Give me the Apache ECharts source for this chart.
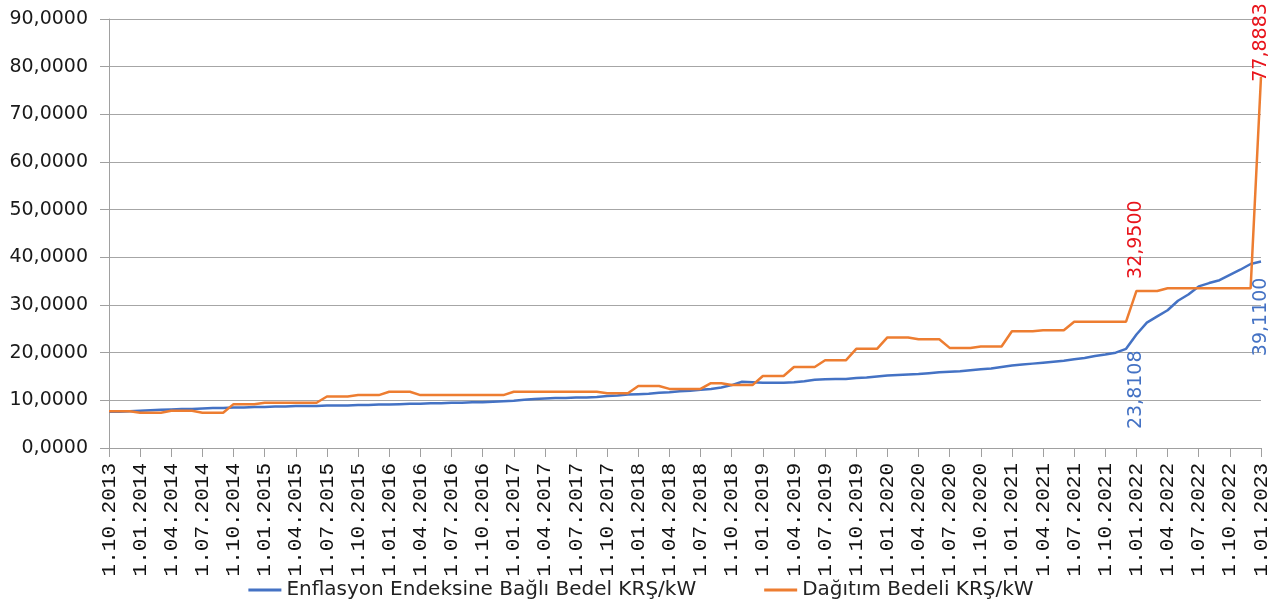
<!DOCTYPE html>
<html><head><meta charset="utf-8">
<script src="https://cdn.jsdelivr.net/npm/echarts@6/dist/echarts.min.js"></script>
<style>html,body{margin:0;padding:0;background:#fff}#c{width:1282px;height:605px}</style>
</head><body><div id="c"></div>
<script>
// Monthly categories, 1.10.2013 .. 1.01.2023
const categories = [];
for (let i = 0; i < 112; i++) {
  const m = (9 + i) % 12 + 1;
  const y = 2013 + Math.floor((9 + i) / 12);
  categories.push('1.' + String(m).padStart(2, '0') + '.' + y);
}
const seriesNames = ['Enflasyon Endeksine Bağlı Bedel KRŞ/kW', 'Dağıtım Bedeli KRŞ/kW'];

const enflasyon = [
  7.6, 7.6, 7.7, 7.8, 7.9, 8.0, 8.1, 8.2, 8.2, 8.3, 8.4, 8.4,
  8.5, 8.5, 8.6, 8.6, 8.7, 8.7, 8.8, 8.8, 8.8, 8.9, 8.9, 8.9,
  9.0, 9.0, 9.1, 9.1, 9.2, 9.3, 9.3, 9.4, 9.4, 9.5, 9.5, 9.6,
  9.6, 9.7, 9.8, 9.9, 10.1, 10.3, 10.4, 10.5, 10.5, 10.6, 10.6, 10.7,
  10.9, 11.0, 11.2, 11.3, 11.4, 11.6, 11.7, 11.9, 12.0, 12.2, 12.4, 12.7,
  13.2, 13.9, 13.8, 13.7, 13.7, 13.7, 13.8, 14.0, 14.3, 14.4, 14.5, 14.5,
  14.7, 14.8, 15.0, 15.2, 15.3, 15.4, 15.5, 15.7, 15.9, 16.0, 16.1, 16.3,
  16.5, 16.7, 17.0, 17.3, 17.5, 17.7, 17.9, 18.1, 18.3, 18.6, 18.9, 19.3,
  19.6, 20.0, 20.8, 23.8108, 26.3, 27.6, 28.9, 30.9, 32.2, 33.9, 34.6, 35.2,
  36.3, 37.4, 38.6, 39.11
];
const dagitim = [
  7.7, 7.7, 7.7, 7.4, 7.4, 7.4, 7.8, 7.8, 7.8, 7.4, 7.4, 7.4,
  9.2, 9.2, 9.2, 9.5, 9.5, 9.5, 9.5, 9.5, 9.5, 10.8, 10.8, 10.8,
  11.1, 11.1, 11.1, 11.8, 11.8, 11.8, 11.1, 11.1, 11.1, 11.1, 11.1, 11.1,
  11.1, 11.1, 11.1, 11.8, 11.8, 11.8, 11.8, 11.8, 11.8, 11.8, 11.8, 11.8,
  11.5, 11.5, 11.5, 13.0, 13.0, 13.0, 12.4, 12.4, 12.4, 12.4, 13.6, 13.6,
  13.2, 13.2, 13.2, 15.1, 15.1, 15.1, 17.0, 17.0, 17.0, 18.4, 18.4, 18.4,
  20.8, 20.8, 20.8, 23.2, 23.2, 23.2, 22.8, 22.8, 22.8, 21.0, 21.0, 21.0,
  21.3, 21.3, 21.3, 24.5, 24.5, 24.5, 24.7, 24.7, 24.7, 26.5, 26.5, 26.5,
  26.5, 26.5, 26.5, 32.95, 32.95, 32.95, 33.5, 33.5, 33.5, 33.5, 33.5, 33.5,
  33.5, 33.5, 33.5, 77.8883
];

const fmt = v => v.toFixed(4).replace('.', ',');
const BLUE = '#4472C4', ORANGE = '#ED7D31', RED = '#E8141B';

function labelled(arr, labels) {
  return arr.map((v, i) => labels[i] ? { value: v, label: labels[i] } : v);
}
const baseLbl = { show: true, rotate: 90, fontFamily: 'DejaVu Sans', fontSize: 19, verticalAlign: 'middle',
  formatter: p => fmt(p.value) };

const blueData = labelled(enflasyon, {
  99: Object.assign({}, baseLbl, { position: 'bottom', distance: 16, align: 'right', color: BLUE }),
  111: Object.assign({}, baseLbl, { position: 'bottom', distance: 16, align: 'right', color: BLUE })
});
const orangeData = labelled(dagitim, {
  99: Object.assign({}, baseLbl, { position: 'top', distance: 12, align: 'left', color: RED }),
  111: Object.assign({}, baseLbl, { position: 'bottom', distance: 5, align: 'left', color: RED })
});

const chart = echarts.init(document.getElementById('c'));
chart.setOption({
  animation: false,
  backgroundColor: '#fff',
  grid: { left: 109, right: 21, top: 19, bottom: 157, containLabel: false },
  legend: {
    data: seriesNames, top: 575, left: 'center', itemGap: 68, itemWidth: 33, itemHeight: 3,
    icon: 'rect',
    textStyle: { fontFamily: 'DejaVu Sans', fontSize: 20, color: '#222' }
  },
  xAxis: {
    type: 'category', data: categories, boundaryGap: false,
    axisLine: { lineStyle: { color: '#a0a0a0', width: 1 } },
    axisTick: { interval: 2, length: 9, lineStyle: { color: '#a0a0a0' } },
    axisLabel: { interval: 2, rotate: 90, margin: 15, fontFamily: 'Liberation Mono', fontSize: 21, color: '#111' },
    splitLine: { show: false }
  },
  yAxis: {
    type: 'value', min: 0, max: 90, interval: 10,
    axisLine: { show: true, lineStyle: { color: '#a0a0a0', width: 1 } },
    axisTick: { show: true, length: 9, lineStyle: { color: '#a0a0a0' } },
    axisLabel: { formatter: v => fmt(v), margin: 21, fontFamily: 'DejaVu Sans', fontSize: 19, color: '#1a1a1a' },
    splitLine: { lineStyle: { color: '#a6a6a6', width: 1 } }
  },
  series: [
    { name: seriesNames[0], type: 'line', data: blueData, showSymbol: true, showAllSymbol: true,
      symbol: 'circle', symbolSize: 0.01, labelLayout: { hideOverlap: false },
      lineStyle: { color: BLUE, width: 2.5 }, itemStyle: { color: BLUE } },
    { name: seriesNames[1], type: 'line', data: orangeData, showSymbol: true, showAllSymbol: true,
      symbol: 'circle', symbolSize: 0.01, labelLayout: { hideOverlap: false },
      lineStyle: { color: ORANGE, width: 2.5 }, itemStyle: { color: ORANGE } }
  ]
});
</script></body></html>
